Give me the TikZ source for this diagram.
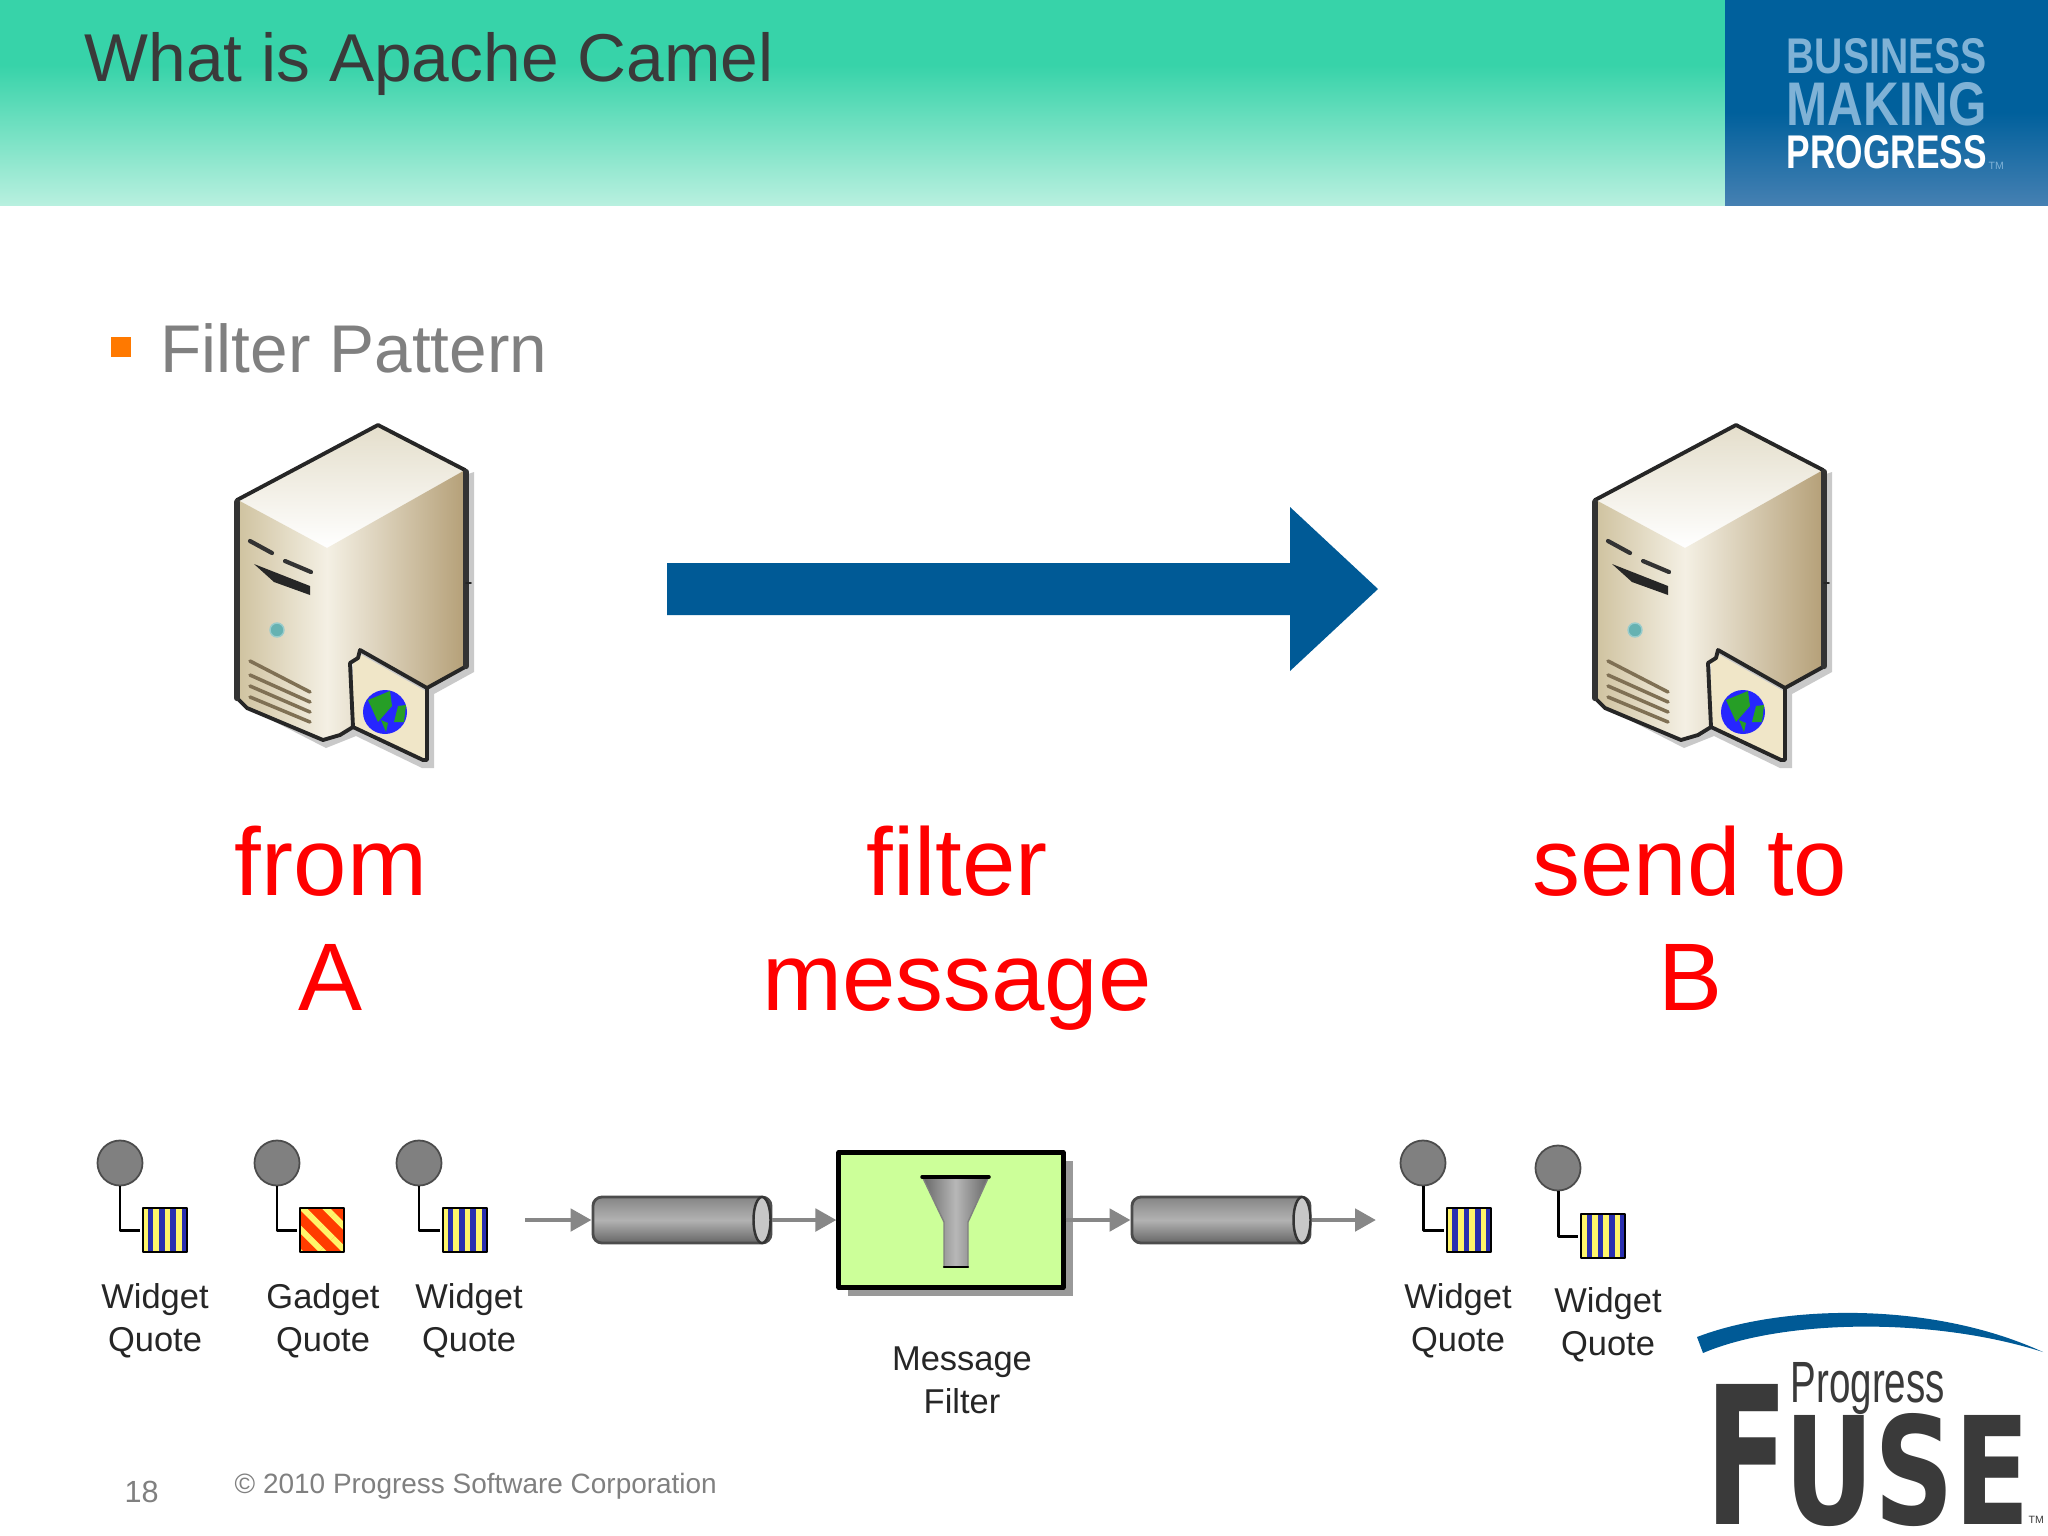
\documentclass[tikz,border=0pt]{standalone}
\usepackage{amssymb,amsmath}
\usepackage{fontspec}
\setmainfont{Liberation Sans}
\newfontfamily\fusefont{DejaVu Sans}
\usepackage{color}
\usetikzlibrary{arrows.meta}
\usetikzlibrary{patterns.meta}
\usetikzlibrary{shadows}
\usetikzlibrary{shapes.geometric}
\definecolor{headgreen}{HTML}{37D3A9}
\definecolor{headpale}{HTML}{B8F0DF}
\definecolor{headblue}{HTML}{00609C}
\definecolor{headsteel}{HTML}{4580B2}
\definecolor{logotint}{HTML}{7FB2D6}
\definecolor{arrowblue}{HTML}{005A96}
\definecolor{inkgrey}{HTML}{3A3A3A}
\definecolor{textgrey}{HTML}{808080}
\definecolor{flowgrey}{HTML}{878787}
\definecolor{stripeblue}{HTML}{2A2FB0}
\definecolor{stripeyellow}{HTML}{FFF56A}
\definecolor{gadgetred}{HTML}{FF3C00}
\definecolor{filtergreen}{HTML}{CCFF99}
\definecolor{casepale}{HTML}{F4F0E4}
\definecolor{casemid}{HTML}{CFC29F}
\definecolor{casedark}{HTML}{B5A078}
\definecolor{casetop}{HTML}{E4DECB}
\definecolor{casefolder}{HTML}{F0E6C8}
\tikzset{
  slidelabel/.style={inner sep=0pt,anchor=base west},
  redlabel/.style={inner sep=0pt,anchor=base,align=center,text=red,font=\fontsize{27.3}{32.7}\selectfont},
  smalllabel/.style={inner sep=0pt,align=center,text=black!85,font=\fontsize{9.8}{12.2}\selectfont},
  msgdot/.style={circle,inner sep=0pt,minimum size=0.45cm,fill=textgrey,draw=black!70,line width=0.5pt},
  msgbox/.style={rectangle,inner sep=0pt,minimum size=0.44cm,draw=black,line width=0.7pt},
  widgetbox/.style={msgbox,preaction={fill=stripeblue},pattern={Lines[angle=90,distance=0.113cm,line width=0.057cm,xshift=#1]},pattern color=stripeyellow},
  gadgetbox/.style={msgbox,preaction={fill=gadgetred},pattern={Lines[angle=-45,distance=0.165cm,line width=0.06cm]},pattern color=stripeyellow},
  msgwire/.style={draw=black,line width=0.85pt,line cap=butt},
  flowline/.style={-{Triangle[length=0.21cm,width=0.22cm]},draw=flowgrey,fill=flowgrey,line width=1.4pt,line cap=butt},
  channelbody/.style={rectangle,inner sep=0pt,minimum width=1.78cm,minimum height=0.46cm,rounded corners=0.09cm,draw=black!70,line width=0.8pt,top color=black!48,bottom color=black!60,middle color=black!30},
  channelend/.style={ellipse,inner sep=0pt,minimum width=0.17cm,minimum height=0.46cm,fill=black!22,draw=black!80,line width=0.7pt},
  filterbox/.style={rectangle,inner sep=0pt,minimum width=2.24cm,minimum height=1.35cm,draw=black,line width=1.4pt,fill=filtergreen,drop shadow={shadow xshift=0.095cm,shadow yshift=-0.085cm,fill=black!40,opacity=1}},
  serverbox/.pic={
    \fill[black!35,opacity=0.6] (264,62) -- (264,262) -- (224,284) -- (224,358) -- (212,358) -- (146,326) -- (116,338) -- (34,296) -- (120,300) -- (240,70) -- cycle;
    \shade[top color=casetop,bottom color=white] (28,90) -- (168,15) -- (255,60) -- (117,138) -- cycle;
    \shade[left color=casemid,right color=casepale] (28,90) -- (117,138) -- (117,330) -- (37,298) -- (27,288) -- cycle;
    \shade[left color=casepale,right color=casedark] (117,138) -- (255,60) -- (255,257) -- (217,278) -- (150,240) -- (148,248) -- (140,253) -- (143,317) -- (117,330) -- cycle;
    \fill[casefolder] (143,253) -- (150,244) -- (217,282) -- (217,350) -- (143,317) -- cycle;
    \draw[black!85,line width=1.1pt] (27,90) -- (168,15) -- (255,60) -- (255,257) -- (217,278) -- (150,240) -- (148,248) -- (140,253) -- (143,317) -- (130,325) -- (113,330) -- (37,298) -- (27,288) -- cycle;
    \draw[black!85,line width=1.1pt] (143,317) -- (213,350) -- (217,350) -- (217,278);
    \draw[black!80,line width=1.8pt] (27,92) -- (27,288) (256,62) -- (256,256);
    \draw[black!85,line width=0.5pt] (256,173) -- (261,173);
    \draw[black!80,line width=1.2pt] (40,131) -- (62,143) (75,151) -- (101,162);
    \fill[black!85] (44,154) -- (100,176) -- (100,185) -- (64,172) -- cycle;
    \fill[teal!60!white,draw=teal!40!white] (67,220) circle (7);
    \draw[casedark!70!black,line width=1pt] (40,251) -- (100,282) (40,265) -- (100,292) (40,276) -- (100,302) (40,287) -- (100,312);
    \fill[blue!85!white] (175,302) circle (22);
    \fill[green!55!black!85!white] (158,290) -- (180,281) -- (182,296) -- (168,312) -- cycle (188,296) -- (196,295) -- (194,312) -- (184,312) -- cycle (171,310) -- (178,313) -- (176,322) -- cycle;
  }
}
\begin{document}
\begin{tikzpicture}[line cap=round,line join=round,x=0.01cm,y=-0.01cm]
        \useasboundingbox (0,0) rectangle (2048,1536);
        \fill[white] (0,0) rectangle (2048,1536);
        \fill[headgreen] (0,0) rectangle (1725,65);
        \shade[top color=headgreen,bottom color=headpale] (0,65) rectangle (1725,205);
        \fill[headblue] (1725,0) rectangle (2048,112);
        \shade[top color=headblue,bottom color=headsteel] (1725,112) rectangle (2048,205);
        \node[slidelabel,text=inkgrey,font=\fontsize{19.25}{23}\selectfont] (title) at (84,81) {What is Apache Camel};
        \node[slidelabel,text=logotint] (tagone) at (1786,73) {\resizebox{2.00cm}{0.35cm}{\bfseries BUSINESS}};
        \node[slidelabel,text=logotint] (tagtwo) at (1786,125) {\resizebox{2.00cm}{0.43cm}{\bfseries MAKING}};
        \node[slidelabel,text=white] (tagthree) at (1786,168) {\resizebox{2.00cm}{0.33cm}{\bfseries PROGRESS}};
        \node[slidelabel,text=logotint,font=\fontsize{3}{4}\selectfont] (tagmark) at (1988,169) {TM};
        \fill[orange!95!red] (111,337) rectangle (131,357);
        \node[slidelabel,text=textgrey,font=\fontsize{19.2}{23}\selectfont] (bullet) at (160,372) {Filter Pattern};
        \pic (servera) at (210,410) {serverbox};
        \pic (serverb) at (1568,410) {serverbox};
        \fill[arrowblue] (667,563) -- (1290,563) -- (1290,507) -- (1378,589) -- (1290,671) -- (1290,615) -- (667,615) -- cycle;
        \node[redlabel] (froma) at (331,1010) {from\\A};
        \node[redlabel] (filtermsg) at (957,1010) {filter\\message};
        \node[redlabel] (sendb) at (1690,1010) {send to\\B};
        \node[msgdot] (dota) at (120,1163) {};
        \node[widgetbox=0.091cm] (boxa) at (165,1230) {};
        \node[msgdot] (dotb) at (277,1163) {};
        \node[gadgetbox] (boxb) at (322,1230) {};
        \node[msgdot] (dotc) at (419,1163) {};
        \node[widgetbox=0.040cm] (boxc) at (465,1230) {};
        \node[msgdot] (dotd) at (1423,1163) {};
        \node[widgetbox=0.023cm] (boxd) at (1469,1230) {};
        \node[msgdot] (dote) at (1558,1168) {};
        \node[widgetbox=0.007cm] (boxe) at (1603,1236) {};
        \draw[msgwire] (dota) |- (boxa);
        \draw[msgwire] (dotb) |- (boxb);
        \draw[msgwire] (dotc) |- (boxc);
        \draw[msgwire] (dotd) |- (boxd);
        \draw[msgwire] (dote) |- (boxe);
        \node[smalllabel] (labela) at (155,1321) {Widget\\Quote};
        \node[smalllabel] (labelb) at (323,1321) {Gadget\\Quote};
        \node[smalllabel] (labelc) at (469,1321) {Widget\\Quote};
        \node[smalllabel] (labeld) at (1458,1321) {Widget\\Quote};
        \node[smalllabel] (labele) at (1608,1325) {Widget\\Quote};
        \node[smalllabel] (labelf) at (962,1380) {Message\\Filter};
        \coordinate (flowin) at (525,1220);
        \coordinate (flowout) at (1376,1220);
        \node[channelbody] (chana) at (682,1220) {};
        \node[channelend] (chanaend) at (762,1220) {};
        \node[filterbox] (filter) at (951,1220) {};
        \node[channelbody] (chanb) at (1221,1220) {};
        \node[channelend] (chanbend) at (1302,1220) {};
        \shade[left color=black!60,right color=black!60,middle color=black!28,draw=black!50,line width=0.4pt] (922,1176) -- (989,1176) -- (968,1222) -- (968,1267) -- (944,1267) -- (944,1222) -- cycle;
        \draw[black,line width=1pt] (922,1177) -- (989,1177);
        \draw[black,line width=0.7pt] (944,1267) -- (968,1267);
        \draw[flowline] (flowin) -- (chana);
        \draw[flowline] (chanaend) -- (filter);
        \draw[flowline] (filter) -- (chanb);
        \draw[flowline] (chanbend) -- (flowout);
        \fill[arrowblue] (1697,1337) .. controls (1780,1305) and (1930,1300) .. (2043,1352) .. controls (1930,1316) and (1780,1320) .. (1703,1353) -- cycle;
        \node[slidelabel,text=inkgrey] (fusef) at (1705,1524) {\resizebox{0.83cm}{1.40cm}{\fusefont\bfseries F}};
        \node[slidelabel,text=inkgrey] (fuseuse) at (1784,1524) {\resizebox{2.45cm}{1.11cm}{\fusefont\bfseries USE}};
        \node[slidelabel,text=inkgrey] (fusetop) at (1790,1402) {\resizebox{1.54cm}{0.40cm}{Progress}};
        \node[slidelabel,text=inkgrey,font=\fontsize{3}{4}\selectfont] (fusemark) at (2028,1523) {TM};
        \node[slidelabel,text=textgrey,font=\fontsize{8.7}{10}\selectfont] (pageno) at (124,1502) {18};
        \node[slidelabel,text=textgrey,font=\fontsize{7.95}{10}\selectfont] (copyright) at (234,1493) {© 2010 Progress Software Corporation};
      \end{tikzpicture}
\end{document}
